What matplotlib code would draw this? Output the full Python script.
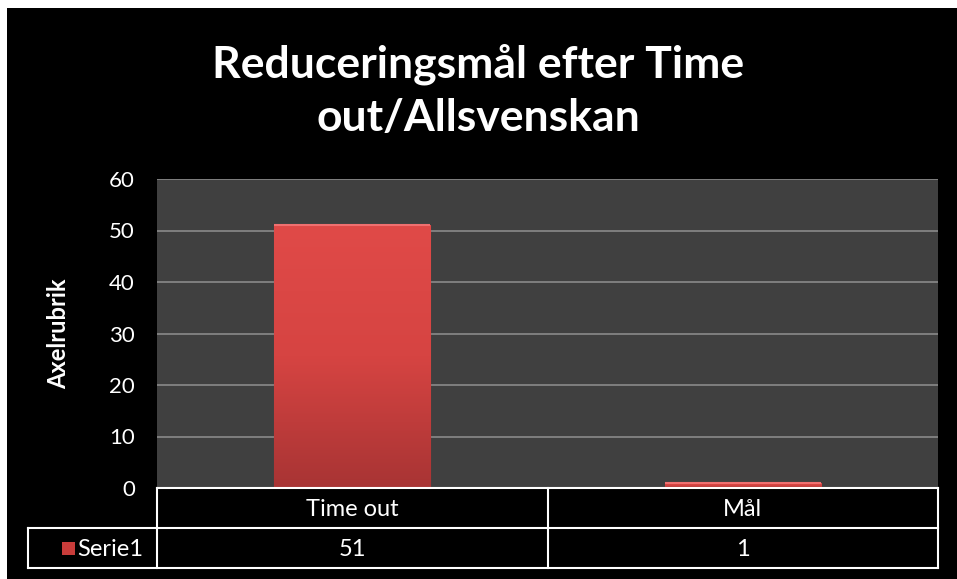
import matplotlib.pyplot as plt
import numpy as np
from matplotlib.patches import Rectangle
from matplotlib.lines import Line2D

categories = ["Time out", "Mål"]
values = [51, 1]
series_name = "Serie1"
title = "Reduceringsmål efter Time\nout/Allsvenskan"
y_label = "Axelrubrik"

W, H = 957, 579
fig = plt.figure(figsize=(W / 100, H / 100), dpi=100)
fig.patch.set_facecolor("white")
plt.rcParams['font.family'] = ['Lato', 'DejaVu Sans']


def fx(x):
    return x / W


def fy(y):
    return 1 - y / H


# black chart area
fig.add_artist(Rectangle((fx(7), 0), 1 - fx(7), fy(8), transform=fig.transFigure,
                         facecolor="black", edgecolor="none", zorder=0))

left, right, top, bottom = 157, 938, 179, 488
ax = fig.add_axes([fx(left), fy(bottom), fx(right - left), (bottom - top) / H])
ax.set_facecolor("#404040")
ax.set_xlim(-0.5, len(categories) - 0.5)
ax.set_ylim(0, 60)
ax.set_yticks(range(0, 61, 10))
ax.set_xticks([])
ax.tick_params(axis="y", length=0, colors="white", labelsize=16, pad=16)
ax.grid(axis="y", color="#8a8a8a", linewidth=1.2)
ax.set_axisbelow(True)
for s in ax.spines.values():
    s.set_visible(False)
ax.set_ylabel(y_label, color="white", fontsize=17, fontweight="bold", labelpad=28)

# bars with a vertical gradient
bars = ax.bar(range(len(categories)), values, width=0.4, color="#d94442",
              edgecolor="#b83a38", linewidth=0.8, zorder=2)
grad = np.linspace(0, 1, 256).reshape(-1, 1)
cmap = plt.matplotlib.colors.LinearSegmentedColormap.from_list(
    "bar", ["#a83434", "#d64442", "#e04a48"])
for b in bars:
    x0, w, h = b.get_x(), b.get_width(), b.get_height()
    im = ax.imshow(grad, extent=[x0, x0 + w, 0, h], origin="lower", cmap=cmap,
                   aspect="auto", zorder=2.5)
    im.set_clip_path(b)
    ax.plot([x0, x0 + w], [h, h], color="#f07070", linewidth=1.5, zorder=3,
            solid_capstyle="butt")
ax.set_xlim(-0.5, len(categories) - 0.5)
ax.set_ylim(0, 60)

fig.text(0.5, fy(91), title, ha="center", va="center", color="white",
         fontsize=32, fontweight="bold", linespacing=1.4)

# data table under the axis
row1, row2, row3 = 488, 528, 568
col_x = [left, (left + right) / 2, right]
lw = 1.5
segs = [
    ([left, right], [row1, row1]),
    ([28, right], [row2, row2]),
    ([28, right], [row3, row3]),
    ([28, 28], [row2, row3]),
]
for cx in col_x:
    segs.append(([cx, cx], [row1, row3]))
for xs, ys in segs:
    fig.add_artist(Line2D([fx(v) for v in xs], [fy(v) for v in ys],
                          transform=fig.transFigure, color="white", linewidth=lw))

for i, (cat, val) in enumerate(zip(categories, values)):
    cx = (col_x[i] + col_x[i + 1]) / 2
    fig.text(fx(cx), fy((row1 + row2) / 2 + 1), cat, ha="center", va="center",
             color="white", fontsize=17)
    fig.text(fx(cx), fy((row2 + row3) / 2 + 1), str(val), ha="center", va="center",
             color="white", fontsize=17)

fig.add_artist(Rectangle((fx(62), fy(555)), fx(13), 13 / H, transform=fig.transFigure,
                         facecolor="#c83c3a", edgecolor="none"))
fig.text(fx(77), fy((row2 + row3) / 2 + 1), series_name, ha="left", va="center",
         color="white", fontsize=17)

fig.savefig("out.png", dpi=100, facecolor=fig.get_facecolor())
